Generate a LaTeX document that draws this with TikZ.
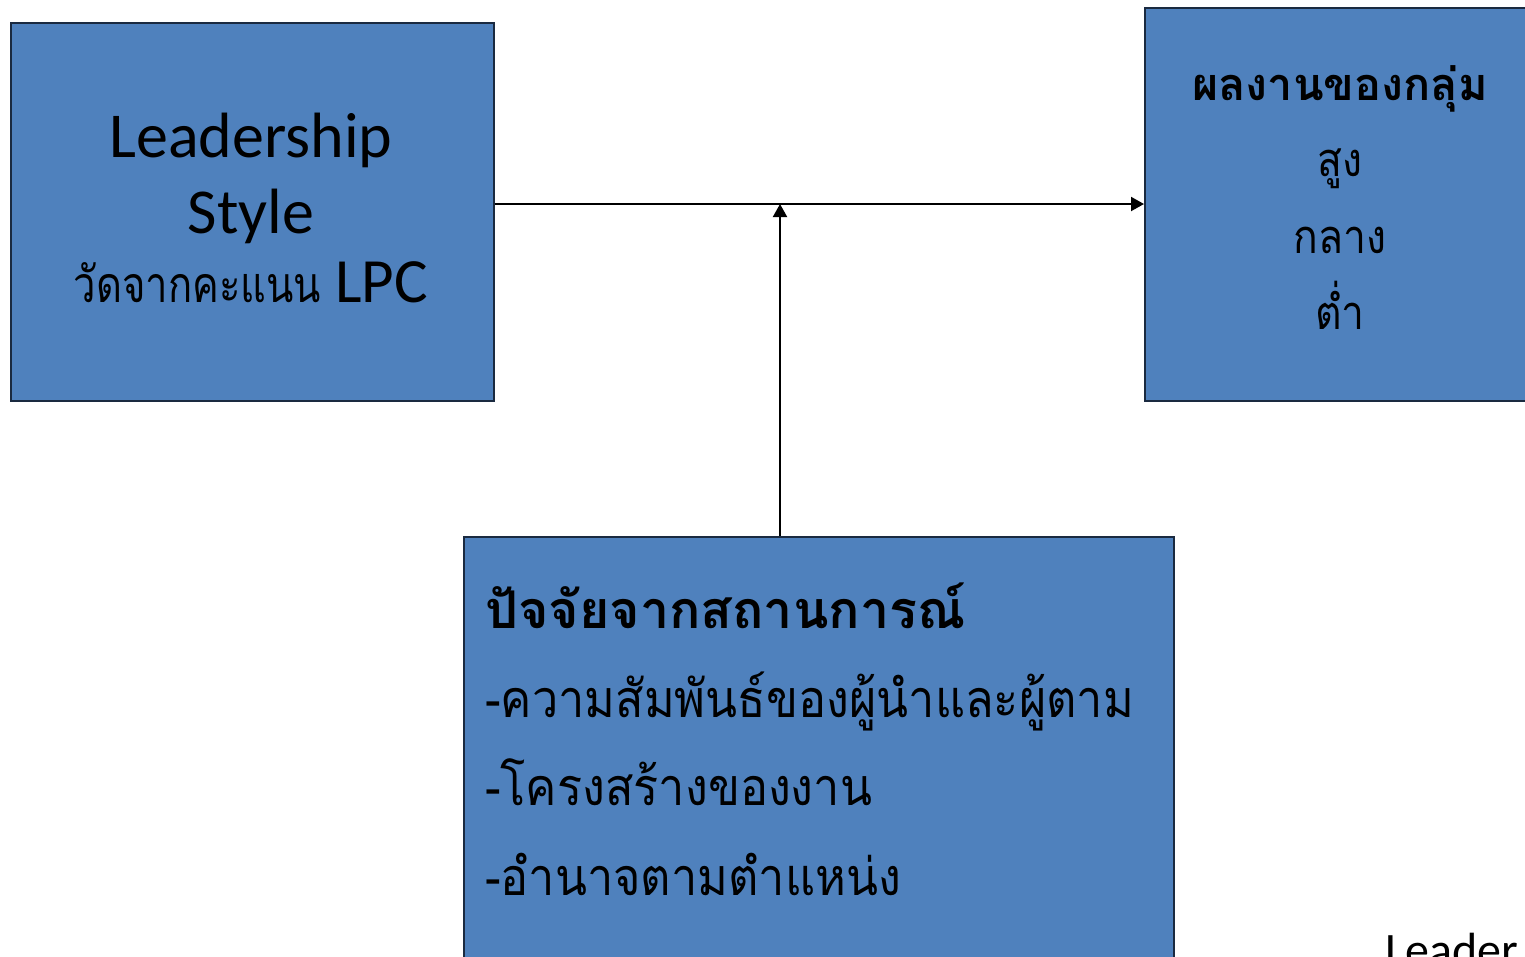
\documentclass[tikz,border=0pt]{standalone}
\usepackage{fontspec}
\setmainfont{Carlito}
\newfontfamily\thai[Script=Thai]{Loma}
\newfontfamily\thaib[Script=Thai,FakeStretch=0.9]{Loma}
\newfontfamily\thair[Script=Thai,FakeStretch=0.87]{Loma}
\newfontfamily\thail[Script=Thai,FakeStretch=0.8]{Loma}
\usetikzlibrary{arrows.meta}
\definecolor{boxblue}{HTML}{4F81BD}
\definecolor{boxline}{HTML}{1A2A40}
\tikzset{
  bluebox/.style={draw=boxline, line width=1.5pt, fill=boxblue, inner sep=0pt},
  conn/.style={line width=2pt, -{Triangle[length=13pt,width=14pt]}},
  txt/.style={inner sep=0pt, anchor=base}
}
\begin{document}
\begin{tikzpicture}[x=1pt,y=1pt]
\useasboundingbox (0,0) rectangle (1525,-956);
\fill[white] (0,0) rectangle (1525,-956);
% boxes
\node[bluebox, minimum width=483, minimum height=378, anchor=north west] (lead) at (10,-22) {};
\node[bluebox, minimum width=400, minimum height=393, anchor=north west] (res) at (1144,-7) {};
\node[bluebox, minimum width=710, minimum height=440, anchor=north west] (sit) at (463,-536) {};
% left texts
\node[txt, font=\fontsize{64}{64}\selectfont] (l1) at (251,-157) {Leadership};
\node[txt, font=\fontsize{64}{64}\selectfont] (l2) at (251,-233) {Style};
\node[txt, font=\fontsize{63}{63}\selectfont] (l3) at (251,-302) {{\thail\fontsize{50}{50}\selectfont วัดจากคะแนน} LPC};
% right texts
\node[txt, font=\thai\bfseries\fontsize{45}{45}\selectfont] (r1) at (1340,-100) {ผลงานของกลุ่ม};
\node[txt, font=\thair\fontsize{47}{47}\selectfont] (r2) at (1340,-176) {สูง};
\node[txt, font=\thair\fontsize{47}{47}\selectfont] (r3) at (1340,-253) {กลาง};
\node[txt, font=\thair\fontsize{47}{47}\selectfont] (r4) at (1340,-329) {ต่ำ};
% bottom texts
\node[txt, anchor=base west, font=\thai\bfseries\fontsize{52}{52}\selectfont] (b1) at (485,-628) {ปัจจัยจากสถานการณ์};
\node[txt, anchor=base west, font=\thaib\fontsize{52}{52}\selectfont] (b2) at (485,-717) {-ความสัมพันธ์ของผู้นำและผู้ตาม};
\node[txt, anchor=base west, font=\thaib\fontsize{52}{52}\selectfont] (b3) at (485,-805) {-โครงสร้างของงาน};
\node[txt, anchor=base west, font=\thaib\fontsize{52}{52}\selectfont] (b4) at (485,-895) {-อำนาจตามตำแหน่ง};
% cut text at bottom right
\node[txt, anchor=base west, font=\fontsize{48}{48}\selectfont] (cut) at (1385,-966) {Leader};
% connectors
\coordinate (mid) at (780,-204);
\draw[conn] (lead.east |- mid) -- (res.west |- mid);
\draw[conn] (sit.north -| mid) -- (mid);
\end{tikzpicture}
\end{document}
